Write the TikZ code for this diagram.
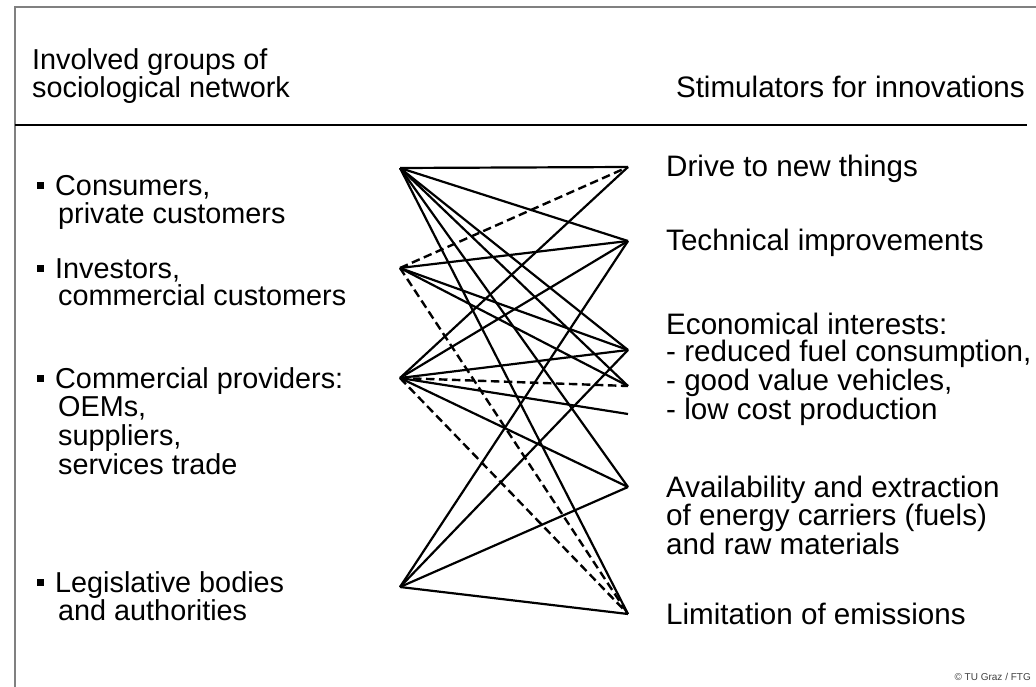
\documentclass[tikz,border=0pt]{standalone}
\usepackage{fontspec}
\setmainfont{Liberation Sans}
\usepackage{tikz}
\usetikzlibrary{positioning}

\begin{document}
\begin{tikzpicture}[x=1pt,y=-1pt,
    txt/.style={anchor=base west, inner sep=0pt, font=\fontsize{28.8}{30}\selectfont},
    rtxt/.style={txt, font=\fontsize{29.6}{30}\selectfont},
    bul/.style={fill=black, inner sep=0pt, minimum size=7pt},
    link/.style={line width=2.2pt},
    dlink/.style={line width=2.4pt, dash pattern=on 8.5pt off 4.5pt}]
  \useasboundingbox (0,0) rectangle (1036,687);
  \draw[gray, line width=1.2pt] (15,687) -- (15,7) -- (1036,7);

  % headings
  \node[txt] (h1) at (32,70) {Involved groups of};
  \node[txt] (h2) at (32,98) {sociological network};
  \node[rtxt, anchor=base east] (h3) at (1025,98) {Stimulators for innovations};
  \draw[line width=1.3pt] (15,125) -- (1027,125);

  % groups
  \node[bul] (b1) at (40,186) {};
  \node[txt] (t1) at (55,196) {Consumers,};
  \node[txt] (t1a) at (58,224) {private customers};
  \node[bul] (b2) at (40,268) {};
  \node[txt] (t2) at (55,278) {Investors,};
  \node[txt] (t2a) at (58,305) {commercial customers};
  \node[bul] (b3) at (40,378) {};
  \node[txt] (t3) at (55,388) {Commercial providers:};
  \node[txt] (t3a) at (58,416) {OEMs,};
  \node[txt] (t3b) at (58,445) {suppliers,};
  \node[txt] (t3c) at (58,474) {services trade};
  \node[bul] (b4) at (40,582) {};
  \node[txt] (t4) at (55,592) {Legislative bodies};
  \node[txt] (t4a) at (58,620) {and authorities};

  % stimulators
  \node[rtxt] (u1) at (666,177) {Drive to new things};
  \node[rtxt] (u2) at (666,251) {Technical improvements};
  \node[rtxt] (u3) at (666,334) {Economical interests:};
  \node[rtxt] (u3a) at (666,361) {- reduced fuel consumption,};
  \node[rtxt] (u3b) at (666,390) {- good value vehicles,};
  \node[rtxt] (u3c) at (666,419) {- low cost production};
  \node[rtxt] (u4) at (666,497) {Availability and extraction};
  \node[rtxt] (u4a) at (666,525) {of energy carriers (fuels)};
  \node[rtxt] (u4b) at (666,554) {and raw materials};
  \node[rtxt] (u5) at (666,624) {Limitation of emissions};

  \node[anchor=base east, inner sep=0pt, font=\fontsize{10}{12}\selectfont, text=black!75] (cr) at (1031,680) {\textcopyright\ TU Graz / FTG};

  % network points
  \coordinate (g1) at (400,168);
  \coordinate (g2) at (400,268);
  \coordinate (g3) at (400,378);
  \coordinate (g4) at (400,587);
  \coordinate (s1) at (628,167);
  \coordinate (s2) at (628,241);
  \coordinate (s3) at (628,350);
  \coordinate (s4) at (628,386);
  \coordinate (s5) at (628,414);
  \coordinate (s6) at (628,487);
  \coordinate (s7) at (628,614);

  \foreach \t in {1,2,3,4,6,7}
    \draw[link] (g1) -- (s\t);
  \foreach \t in {2,3,4}
    \draw[link] (g2) -- (s\t);
  \foreach \t in {1,7}
    \draw[dlink] (g2) -- (s\t);
  \foreach \t in {1,2,3,5,6}
    \draw[link] (g3) -- (s\t);
  \foreach \t in {4,7}
    \draw[dlink] (g3) -- (s\t);
  \foreach \t in {2,3,6,7}
    \draw[link] (g4) -- (s\t);
\end{tikzpicture}
\end{document}
